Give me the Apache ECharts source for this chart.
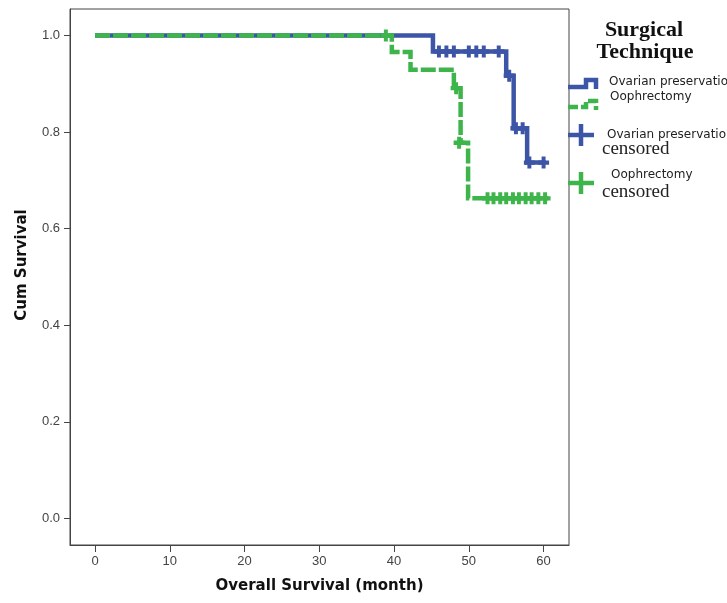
<!DOCTYPE html>
<html>
<head>
<meta charset="utf-8">
<script src="https://cdn.jsdelivr.net/npm/echarts@6/dist/echarts.min.js"></script>
<style>html,body{margin:0;padding:0;background:#fff;}#c{width:727px;height:603px;}</style>
</head>
<body>
<div id="c"></div>
<script>
// Kaplan-Meier steps (time in months, cumulative survival)
var blueTimes = [0, 45.2, 55.0, 56.0, 57.8, 60.3];
var blueSurv  = [1.0, 0.967, 0.917, 0.808, 0.737, 0.737];
var greenTimes = [0, 39.7, 42.2, 48.0, 48.9, 49.9, 60.6];
var greenSurv  = [1.0, 0.966, 0.929, 0.891, 0.778, 0.663, 0.663];
// censored observations
var blueCensTimes = [46.0, 47.0, 48.0, 50.0, 51.0, 52.0, 54.0, 55.4, 56.3, 57.2, 58.1, 60.0];
var blueCensSurv  = [0.967, 0.967, 0.967, 0.967, 0.967, 0.967, 0.967, 0.917, 0.808, 0.808, 0.737, 0.737];
var greenCensTimes = [38.9, 48.3, 48.7, 52.5, 53.3, 54.2, 55.0, 55.9, 56.7, 57.6, 58.4, 59.3, 60.2];
var greenCensSurv  = [1.0, 0.891, 0.778, 0.663, 0.663, 0.663, 0.663, 0.663, 0.663, 0.663, 0.663, 0.663, 0.663];
var xTicks = [0, 10, 20, 30, 40, 50, 60];
var yTicks = [0, 0.2, 0.4, 0.6, 0.8, 1.0];

var BLUE = '#3d55a6', GREEN = '#3db54b';
function pairs(a, b) { return a.map(function (v, i) { return [v, b[i]]; }); }
var plus = 'path://M3.2,0 H6.8 V3.2 H10 V6.8 H6.8 V10 H3.2 V6.8 H0 V3.2 H3.2 Z';

var chart = echarts.init(document.getElementById('c'), null, {renderer: 'canvas'});
chart.setOption({
  animation: false,
  backgroundColor: '#ffffff',
  grid: {left: 70, right: 158, top: 9, bottom: 58, show: true, borderColor: '#444', borderWidth: 1, backgroundColor: 'transparent'},
  xAxis: {
    type: 'value', min: -3.35, max: 63.4,
    name: 'Overall Survival (month)', nameLocation: 'middle', nameGap: 34,
    nameTextStyle: {fontFamily: 'DejaVu Sans', fontWeight: 'bold', fontSize: 15, color: '#111'},
    axisLine: {show: true, onZero: false, lineStyle: {color: '#444', width: 1}},
    axisTick: {show: true, inside: false, length: 7, customValues: xTicks, lineStyle: {color: '#444'}},
    axisLabel: {customValues: xTicks, margin: 10, fontFamily: 'Liberation Sans', fontSize: 13, color: '#444'},
    splitLine: {show: false}
  },
  yAxis: {
    type: 'value', min: -0.055, max: 1.055,
    name: 'Cum Survival', nameLocation: 'middle', nameGap: 40, nameRotate: 90,
    nameTextStyle: {fontFamily: 'DejaVu Sans', fontWeight: 'bold', fontSize: 15, color: '#111', padding: [0, 0, 0, 24]},
    axisLine: {show: true, onZero: false, lineStyle: {color: '#444', width: 1}},
    axisTick: {show: true, inside: false, length: 6, customValues: yTicks, lineStyle: {color: '#444'}},
    axisLabel: {customValues: yTicks, margin: 10, fontFamily: 'Liberation Sans', fontSize: 13, color: '#444',
      formatter: function (v) { return v.toFixed(1); }},
    splitLine: {show: false}
  },
  series: [
    {type: 'line', name: 'Ovarian preservation', step: 'end', data: pairs(blueTimes, blueSurv),
      symbol: 'none', lineStyle: {color: BLUE, width: 4.5, cap: 'butt', join: 'miter'}, z: 2},
    {type: 'scatter', name: 'Ovarian preservation censored', data: pairs(blueCensTimes, blueCensSurv),
      symbol: plus, symbolSize: [11, 12], itemStyle: {color: BLUE, opacity: 1}, z: 3},
    {type: 'line', name: 'Oophrectomy', step: 'end', data: pairs(greenTimes, greenSurv),
      symbol: 'none', lineStyle: {color: GREEN, width: 4.5, type: [15, 3], cap: 'butt', join: 'miter'}, z: 4},
    {type: 'scatter', name: 'Oophrectomy censored', data: pairs(greenCensTimes, greenCensSurv),
      symbol: plus, symbolSize: [11, 12], itemStyle: {color: GREEN, opacity: 1}, z: 5}
  ],
  graphic: [
    {type: 'text', x: 644, y: 19, style: {text: 'Surgical', font: 'bold 22px "Liberation Serif"', fill: '#111', align: 'center'}},
    {type: 'text', x: 645, y: 41, style: {text: 'Technique', font: 'bold 22px "Liberation Serif"', fill: '#111', align: 'center'}},
    // legend icons
    {type: 'polyline', shape: {points: [[568, 87], [586, 87], [586, 80], [596, 80], [596, 89]]},
      style: {stroke: BLUE, lineWidth: 4.5, fill: null}},
    {type: 'polyline', shape: {points: [[568, 107], [586, 107], [586, 101], [596, 101], [596, 110]]},
      style: {stroke: GREEN, lineWidth: 4.5, fill: null, lineDash: [10, 3]}},
    {type: 'line', shape: {x1: 568, y1: 135, x2: 594, y2: 135}, style: {stroke: BLUE, lineWidth: 4.5}},
    {type: 'line', shape: {x1: 581, y1: 124, x2: 581, y2: 146}, style: {stroke: BLUE, lineWidth: 4.5}},
    {type: 'line', shape: {x1: 568, y1: 183, x2: 594, y2: 183}, style: {stroke: GREEN, lineWidth: 4.5}},
    {type: 'line', shape: {x1: 581, y1: 172, x2: 581, y2: 194}, style: {stroke: GREEN, lineWidth: 4.5}},
    // legend texts
    {type: 'text', left: 609, top: 76, style: {text: 'Ovarian preservation', font: '12px "DejaVu Sans"', fill: '#222'}},
    {type: 'text', left: 610, top: 91, style: {text: 'Oophrectomy', font: '12px "DejaVu Sans"', fill: '#222'}},
    {type: 'text', left: 607, top: 129, style: {text: 'Ovarian preservation', font: '12px "DejaVu Sans"', fill: '#222'}},
    {type: 'text', left: 602, top: 140, style: {text: 'censored', font: '19px "Liberation Serif"', fill: '#222'}},
    {type: 'text', left: 611, top: 169, style: {text: 'Oophrectomy', font: '12px "DejaVu Sans"', fill: '#222'}},
    {type: 'text', left: 602, top: 183, style: {text: 'censored', font: '19px "Liberation Serif"', fill: '#222'}}
  ]
});
</script>
</body>
</html>
